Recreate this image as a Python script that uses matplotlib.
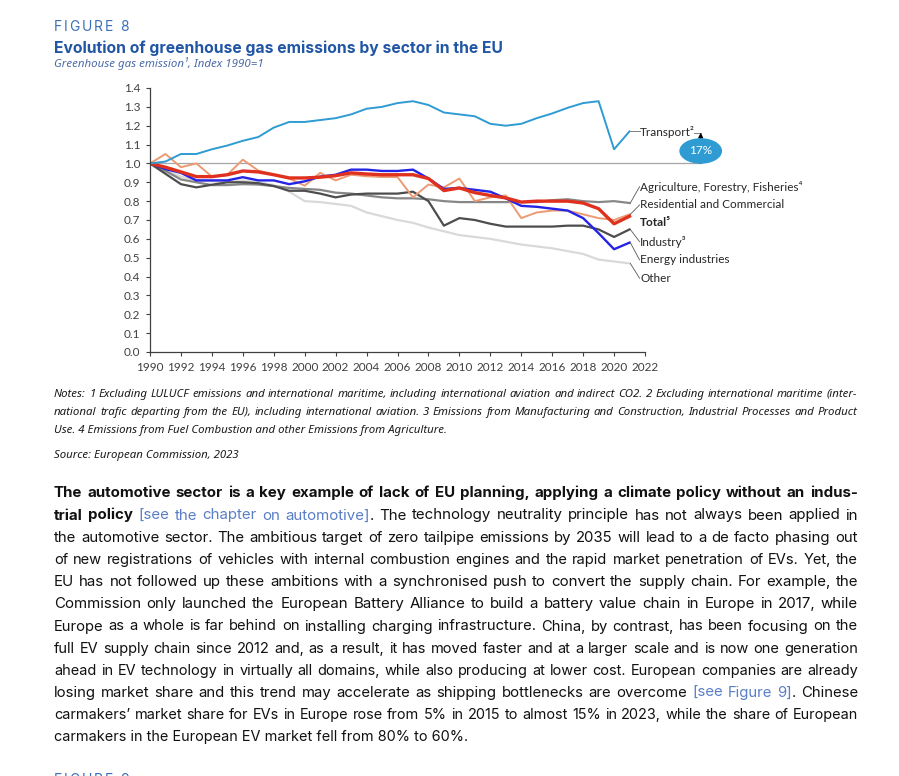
import matplotlib
matplotlib.use('Agg')
import matplotlib.pyplot as plt

# page size in pixels
W, H = 899, 776

# data (index 1990 = 1)
years = list(range(1990, 2022))
transport = [1.00, 1.01, 1.05, 1.05, 1.075, 1.095, 1.12, 1.14, 1.19, 1.22,
             1.22, 1.23, 1.24, 1.26, 1.29, 1.30, 1.32, 1.33, 1.31, 1.27,
             1.26, 1.25, 1.21, 1.20, 1.21, 1.24, 1.265, 1.295, 1.32, 1.33,
             1.075, 1.17]
residential = [1.00, 1.05, 0.98, 1.00, 0.93, 0.94, 1.02, 0.962, 0.94, 0.92,
               0.882, 0.95, 0.91, 0.94, 0.932, 0.928, 0.928, 0.82, 0.888, 0.873,
               0.92, 0.80, 0.82, 0.83, 0.71, 0.74, 0.75, 0.75, 0.73, 0.71,
               0.70, 0.73]
total = [1.00, 0.98, 0.955, 0.93, 0.93, 0.94, 0.96, 0.955, 0.94, 0.923,
         0.923, 0.927, 0.935, 0.95, 0.944, 0.94, 0.94, 0.94, 0.92, 0.856,
         0.87, 0.845, 0.83, 0.817, 0.795, 0.80, 0.80, 0.80, 0.79, 0.76,
         0.68, 0.72]
energy = [1.00, 0.97, 0.95, 0.91, 0.91, 0.91, 0.927, 0.91, 0.91, 0.89,
          0.905, 0.93, 0.94, 0.967, 0.967, 0.96, 0.96, 0.967, 0.92, 0.865,
          0.87, 0.86, 0.85, 0.815, 0.775, 0.77, 0.76, 0.75, 0.71, 0.63,
          0.545, 0.58]
industry = [1.00, 0.945, 0.89, 0.873, 0.887, 0.90, 0.90, 0.895, 0.88, 0.855,
            0.855, 0.84, 0.82, 0.835, 0.84, 0.84, 0.84, 0.85, 0.80, 0.67,
            0.71, 0.70, 0.68, 0.665, 0.665, 0.665, 0.665, 0.67, 0.67, 0.65,
            0.61, 0.65]
agriculture = [1.00, 0.96, 0.915, 0.90, 0.885, 0.885, 0.89, 0.888, 0.88, 0.87,
               0.865, 0.86, 0.845, 0.84, 0.83, 0.82, 0.815, 0.815, 0.81, 0.80,
               0.795, 0.795, 0.795, 0.795, 0.795, 0.795, 0.805, 0.81, 0.80, 0.795,
               0.80, 0.79]
other = [1.00, 0.96, 0.93, 0.91, 0.905, 0.90, 0.91, 0.90, 0.885, 0.85,
         0.80, 0.795, 0.785, 0.775, 0.74, 0.72, 0.70, 0.685, 0.66, 0.64,
         0.62, 0.61, 0.60, 0.585, 0.57, 0.56, 0.55, 0.535, 0.52, 0.49,
         0.48, 0.47]

series_labels = ['Agriculture, Forestry, Fisheries\u2074', 'Residential and Commercial',
                 'Total\u2075', 'Industry\u00b3', 'Energy industries', 'Other']
label_y = [0.877, 0.780, 0.686, 0.585, 0.488, 0.391]
transport_change = '17%'

notes = [
    'Notes: 1 Excluding LULUCF emissions and international maritime, including international aviation and indirect CO2. 2 Excluding international maritime (inter-',
    'national trafic departing from the EU), including international aviation. 3 Emissions from Manufacturing and Construction, Industrial Processes and Product',
    'Use. 4 Emissions from Fuel Combustion and other Emissions from Agriculture.',
]
source = 'Source: European Commission, 2023'

N = {}
B = {'fontweight': 'bold'}
L = {'color': '#5a7ec6'}
body = [
    [('The automotive sector is a key example of lack of EU planning, applying a climate policy without an indus-', B)],
    [('trial policy', B), (' [see the chapter on automotive]', L), ('. The technology neutrality principle has not always been applied in', N)],
    [('the automotive sector. The ambitious target of zero tailpipe emissions by 2035 will lead to a de facto phasing out', N)],
    [('of new registrations of vehicles with internal combustion engines and the rapid market penetration of EVs. Yet, the', N)],
    [('EU has not followed up these ambitions with a synchronised push to convert the supply chain. For example, the', N)],
    [('Commission only launched the European Battery Alliance to build a battery value chain in Europe in 2017, while', N)],
    [('Europe as a whole is far behind on installing charging infrastructure. China, by contrast, has been focusing on the', N)],
    [('full EV supply chain since 2012 and, as a result, it has moved faster and at a larger scale and is now one generation', N)],
    [('ahead in EV technology in virtually all domains, while also producing at lower cost. European companies are already', N)],
    [('losing market share and this trend may accelerate as shipping bottlenecks are overcome', N), (' [see Figure 9]', L), ('. Chinese', N)],
    [('carmakers\u2019 market share for EVs in Europe rose from 5% in 2015 to almost 15% in 2023, while the share of European', N)],
    [('carmakers in the European EV market fell from 80% to 60%.', N)],
]

fig = plt.figure(figsize=(W / 100, H / 100), dpi=100)
fig.patch.set_facecolor('white')
renderer = fig.canvas.get_renderer()


def text_width(s, **kw):
    t = fig.text(0, 0, s, **kw)
    w = t.get_window_extent(renderer).width
    t.remove()
    return w


def tokenize(segments):
    toks = []
    for s, st in segments:
        for i, w in enumerate(s.split(' ')):
            if w == '':
                continue
            toks.append((w, st, i == 0 and len(toks) > 0))
    return toks


def line_width(segs, **kw):
    toks = tokenize(segs)
    sp = text_width('a a', **kw) - text_width('aa', **kw)
    ngaps = sum(1 for w, st, g in toks[1:] if not g)
    return sum(text_width(w, **{**kw, **st}) for w, st, g in toks) + sp * ngaps


def place_line(segs, x0, x1, base, justify=True, **kw):
    if not justify and len(segs) == 1:
        fig.text(x0 / W, 1 - base / H, segs[0][0], ha='left', va='baseline',
                 **{**kw, **segs[0][1]})
        return
    toks = tokenize(segs)
    widths = [text_width(w, **{**kw, **st}) for w, st, g in toks]
    ngaps = sum(1 for w, st, g in toks[1:] if not g)
    if justify and ngaps:
        gap = (x1 - x0 - sum(widths)) / ngaps
    else:
        gap = text_width('a a', **kw) - text_width('aa', **kw)
    x = x0
    for i, ((w, st, g), wd) in enumerate(zip(toks, widths)):
        if i > 0 and not g:
            x += gap
        fig.text(x / W, 1 - base / H, w, ha='left', va='baseline', **{**kw, **st})
        x += wd


def paragraph(lines, x0, x1, base0, step, size0, stretch=1.0, **kw):
    # justified block: every line is sized to fill the width, within a small range
    natural = [line_width(segs, fontsize=size0, **kw) for segs in lines[:-1]]
    size_min = size0 * (x1 - x0) / max(natural) * 0.99
    for i, segs in enumerate(lines):
        if i < len(lines) - 1:
            size = min(size0 * (x1 - x0) / natural[i] * 0.985, size_min * stretch)
            size = max(size, size_min)
        else:
            size = size_min
        place_line(segs, x0, x1, base0 + i * step, justify=i < len(lines) - 1,
                   fontsize=size, **kw)
    return size_min


def spaced(s, x0, x1, base, **kw):
    chars = [c for c in s if c != ' ']
    widths = [text_width(c, **kw) for c in chars]
    sp = text_width('a a', **kw) - text_width('aa', **kw)
    gap = (x1 - x0 - sum(widths) - sp * s.count(' ')) / (len(s) - 1)
    x = x0
    for c in s:
        if c == ' ':
            x += sp + gap
            continue
        fig.text(x / W, 1 - base / H, c, ha='left', va='baseline', **kw)
        x += text_width(c, **kw) + gap


# header
spaced('FIGURE 8', 54, 129, 30.7, family='Inter', fontsize=10, color='#3a6fb8')
title = 'Evolution of greenhouse gas emissions by sector in the EU'
tkw = dict(family='Inter', fontweight='bold', color='#2156a5')
tsize = 10 * 324 / text_width('Evolution of greenhouse gas emissions by', fontsize=10, **tkw)
fig.text(54 / W, 1 - 52.7 / H, title, ha='left', va='baseline', fontsize=tsize, **tkw)
skw = dict(family='Noto Sans', style='italic', color='#4a6aa8')
ssize = 10 * 209 / text_width('Greenhouse gas emission\u00b9, Index 1990=1', fontsize=10, **skw)
fig.text(54 / W, 1 - 66.7 / H, 'Greenhouse gas emission\u00b9, Index 1990=1',
         ha='left', va='baseline', fontsize=ssize, **skw)

# chart
ax = fig.add_axes([150 / W, 1 - 352 / H, (645 - 150) / W, (352 - 88) / H])
lw = 1.6
ax.plot(years, other, color='#d9d9d9', lw=lw)
ax.plot(years, agriculture, color='#878787', lw=lw)
ax.plot(years, industry, color='#4d4d4d', lw=lw)
ax.plot(years, residential, color='#eb9a72', lw=1.4)
ax.plot(years, energy, color='#2424e6', lw=1.7)
ax.plot(years, total, color='#e0301e', lw=2.4)
ax.plot(years, transport, color='#2f9bd3', lw=1.4)

x_arrow = 2025.6
ax.plot([1990, x_arrow], [1, 1], color='#a6a6a6', lw=0.9, clip_on=False, zorder=0)

ax.set_xlim(1990, 2022)
ax.set_ylim(0, 1.4)
ax.set_xticks(range(1990, 2023, 2))
ax.set_yticks([i / 10 for i in range(15)])
ax.set_yticklabels([f'{i / 10:.1f}' for i in range(15)])
for s in ['top', 'right']:
    ax.spines[s].set_visible(False)
for s in ['left', 'bottom']:
    ax.spines[s].set_color('#404040')
    ax.spines[s].set_linewidth(0.9)
ax.tick_params(length=3, width=0.8, color='#404040', labelsize=8.5,
               labelcolor='#404040', pad=4)
for lab in ax.get_xticklabels() + ax.get_yticklabels():
    lab.set_family('Lato')

lab_kw = dict(family='Lato', fontsize=8.5, color='#262626', va='center', ha='left')
x_txt = 2021.7
# transport label and change marker
ax.plot([years[-1], x_txt - 0.05], [transport[-1], transport[-1]], color='#808080',
        lw=0.7, clip_on=False)
ax.text(x_txt, 1.165, 'Transport\u00b2', clip_on=False, **lab_kw)
ax.plot([x_arrow - 0.45, x_arrow], [1.163, 1.163], color='#808080', lw=0.7, clip_on=False)
ax.annotate('', xy=(x_arrow, 1.163), xytext=(x_arrow, 1.0),
            arrowprops=dict(arrowstyle='-|>', color='black', lw=0.9,
                            mutation_scale=7, shrinkA=0, shrinkB=0),
            annotation_clip=False)
ax.text(x_arrow, 1.066, transport_change, ha='center', va='center', color='white',
        family='Lato', fontsize=8.5, clip_on=False,
        bbox=dict(boxstyle='ellipse,pad=0.3', fc='#2f9bd3', ec='none'))

ends = [agriculture[-1], residential[-1], None, industry[-1], energy[-1], other[-1]]
for name, ly, end in zip(series_labels, label_y, ends):
    if end is not None:
        ax.plot([years[-1] + 0.05, x_txt - 0.05], [end, ly], color='#595959', lw=0.6,
                clip_on=False)
    kw = dict(lab_kw)
    if name.startswith('Total'):
        kw['fontweight'] = 'bold'
    ax.text(x_txt, ly, name, clip_on=False, **kw)

# notes and source
note_kw = dict(family='Noto Sans', style='italic', color='#1a1a1a')
note_size = paragraph([[(line, N)] for line in notes], 54, 857, 396.7, 18.3, 8,
                      stretch=1.03, **note_kw)
place_line([(source, N)], 54, 857, 458.3, justify=False, fontsize=note_size, **note_kw)

# body paragraph
paragraph(body, 54, 858, 497.3, 22.2, 10.5, stretch=1.04,
          family='Inter', color='#111111')

# next figure heading, cut by the page edge
spaced('FIGURE 9', 54, 129, 784.5, family='Inter', fontsize=10, color='#3a6fb8')

fig.savefig('out.png', dpi=100, facecolor='white')
